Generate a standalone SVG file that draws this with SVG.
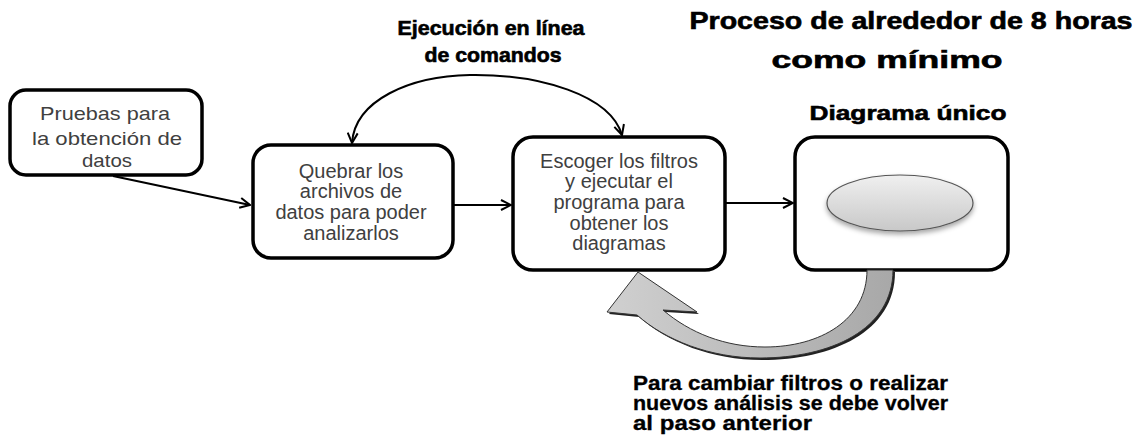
<svg xmlns="http://www.w3.org/2000/svg" width="1142" height="436" viewBox="0 0 1142 436">
<style>
.box{fill:#fff;stroke:#000;stroke-width:3.5}
.t{font-family:"Liberation Sans",Arial,sans-serif;font-size:20px;fill:#404040;text-anchor:middle}
.t1{font-size:19px}
.h{font-family:"Liberation Sans",Arial,sans-serif;font-weight:bold;fill:#000;stroke:#000;stroke-width:0.6;text-anchor:middle}
.hl{font-family:"Liberation Sans",Arial,sans-serif;font-weight:bold;fill:#000;stroke:#000;stroke-width:0.3;font-size:20px}
.conn{fill:none;stroke:#000;stroke-width:2}
</style>
<defs>
<marker id="arr" viewBox="0 0 12 12" refX="11" refY="6" markerWidth="12" markerHeight="12" markerUnits="userSpaceOnUse" orient="auto-start-reverse">
<path d="M1,1 L11,6 L1,11" fill="none" stroke="#000" stroke-width="2"/>
</marker>
<linearGradient id="eg" x1="0" y1="0" x2="0" y2="1">
<stop offset="0" stop-color="#f0f0f0"/><stop offset="1" stop-color="#c8c8c8"/>
</linearGradient>
<linearGradient id="bg" x1="0" y1="0" x2="1" y2="0">
<stop offset="0" stop-color="#d0d0d0"/><stop offset="1" stop-color="#a8a8a8"/>
</linearGradient>
<filter id="sh" x="-20%" y="-30%" width="140%" height="170%">
<feDropShadow dx="0" dy="3" stdDeviation="2.5" flood-color="#000" flood-opacity="0.35"/>
</filter>
</defs>
<g id="title">
<text class="h" x="911" y="29" font-size="23" textLength="443" lengthAdjust="spacingAndGlyphs">Proceso de alrededor de 8 horas</text>
<text class="h" x="887" y="68" font-size="23" textLength="231" lengthAdjust="spacingAndGlyphs">como mínimo</text>
</g>
<g id="label-cmd">
<text class="h" x="491" y="35" font-size="20" textLength="187" lengthAdjust="spacingAndGlyphs">Ejecución en línea</text>
<text class="h" x="493" y="62" font-size="20" textLength="137" lengthAdjust="spacingAndGlyphs">de comandos</text>
</g>
<g id="node1">
<rect class="box" x="10" y="90" width="192" height="85" rx="16"/>
<text class="t t1" x="105" y="120" textLength="130" lengthAdjust="spacingAndGlyphs">Pruebas para</text>
<text class="t t1" x="107" y="145" textLength="150" lengthAdjust="spacingAndGlyphs">la obtención de</text>
<text class="t t1" x="107" y="167" textLength="50" lengthAdjust="spacingAndGlyphs">datos</text>
</g>
<g id="node2">
<rect class="box" x="253" y="145" width="200" height="113" rx="18"/>
<text class="t" x="351" y="178">Quebrar los</text>
<text class="t" x="351" y="198">archivos de</text>
<text class="t" x="351" y="219">datos para poder</text>
<text class="t" x="351" y="240">analizarlos</text>
</g>
<g id="node3">
<rect class="box" x="513" y="137" width="212" height="133" rx="20"/>
<text class="t" x="619" y="168">Escoger los filtros</text>
<text class="t" x="619" y="188">y ejecutar el</text>
<text class="t" x="619" y="209">programa para</text>
<text class="t" x="619" y="230">obtener los</text>
<text class="t" x="619" y="250">diagramas</text>
</g>
<g id="node4">
<text class="h" x="908" y="120" font-size="21" textLength="197" lengthAdjust="spacingAndGlyphs">Diagrama único</text>
<rect class="box" x="795" y="137" width="213" height="133" rx="20"/>
<ellipse cx="900" cy="203" rx="73" ry="28" fill="url(#eg)" stroke="#555" stroke-width="1.2" filter="url(#sh)"/>
</g>
<g id="connectors">
<path class="conn" d="M113,176 L250,205" marker-end="url(#arr)"/>
<path class="conn" d="M453,205 L511,205" marker-end="url(#arr)"/>
<path class="conn" d="M725,203 L793,203" marker-end="url(#arr)"/>
<path class="conn" d="M352,143 C355,100 410,76 470,75 C540,74 610,95 622,135" marker-start="url(#arr)" marker-end="url(#arr)"/>
<path d="M638,272 L697,312 L663,310 C690,333 725,347 765,347 C820,347 867,320 867,270 L893,270 C893,330 830,358 760,358 C710,358 665,340 637,315 L607,312 Z" fill="#222" transform="translate(2,2)"/>
<path d="M638,272 L697,312 L663,310 C690,333 725,347 765,347 C820,347 867,320 867,270 L893,270 C893,330 830,358 760,358 C710,358 665,340 637,315 L607,312 Z" fill="url(#bg)" stroke="#333" stroke-width="1"/>
</g>
<g id="label-back">
<text class="hl" x="633" y="390" textLength="315" lengthAdjust="spacingAndGlyphs">Para cambiar filtros o realizar</text>
<text class="hl" x="633" y="410" textLength="315" lengthAdjust="spacingAndGlyphs">nuevos análisis se debe volver</text>
<text class="hl" x="633" y="430" textLength="179" lengthAdjust="spacingAndGlyphs">al paso anterior</text>
</g>
</svg>
